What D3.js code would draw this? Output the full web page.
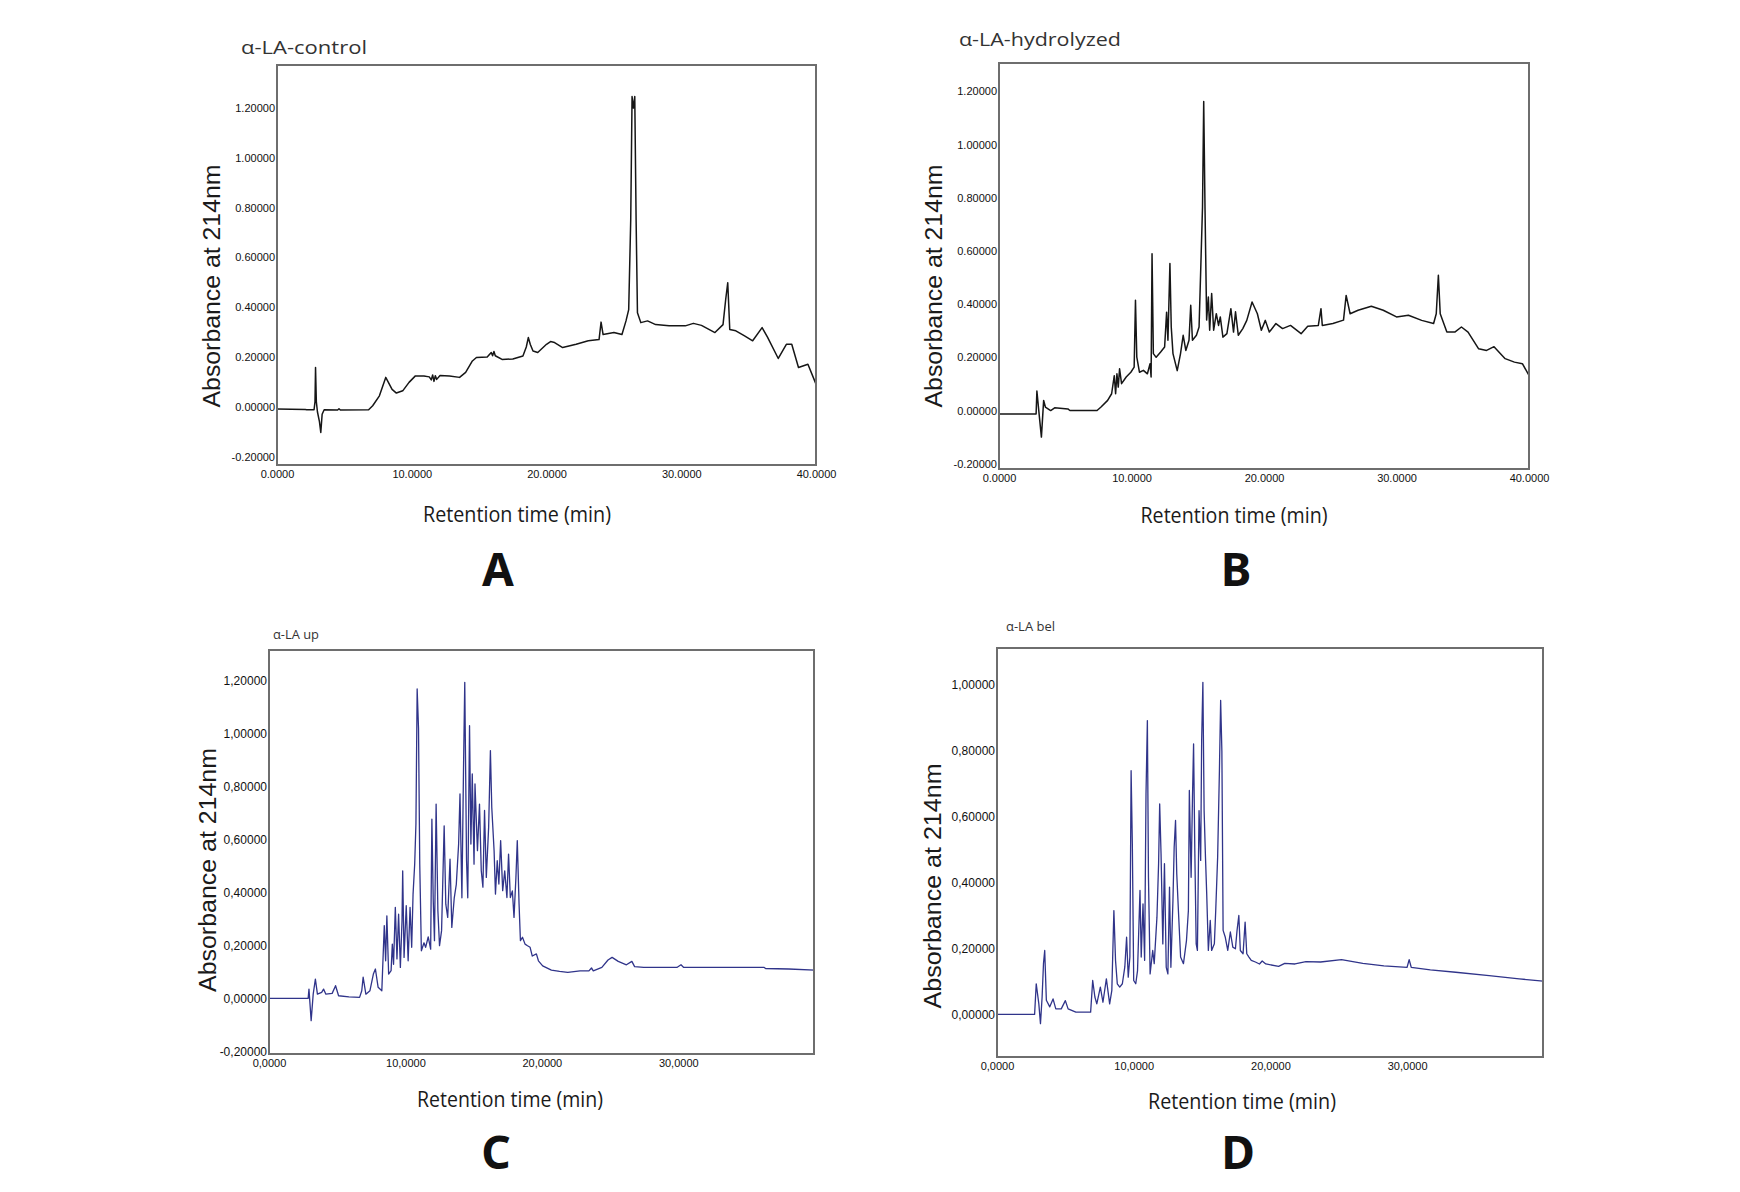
<!DOCTYPE html>
<html><head><meta charset="utf-8">
<script src="https://cdn.jsdelivr.net/npm/d3@7"></script>
<style>body{margin:0;background:#fff}</style>
</head><body><svg id="c" width="1740" height="1192"></svg>
<script>
// ---------- DATA ----------
const titles = ["α-LA-control", "α-LA-hydrolyzed", "α-LA up", "α-LA bel"];
const panelLetters = ["A", "B", "C", "D"];
const xTitle = "Retention time (min)";
const yTitle = "Absorbance at 214nm";

const yTicksFull = [-0.2, 0, 0.2, 0.4, 0.6, 0.8, 1.0, 1.2];
const yTicksD = [0, 0.2, 0.4, 0.6, 0.8, 1.0];
const xTicks40 = [0, 10, 20, 30, 40];
const xTicks30 = [0, 10, 20, 30];

// [retention time (min), absorbance]
const controlTrace = [[0,-0.009],[2.1,-0.011],[2.2,-0.012],[2.75,-0.012],[2.82,0.02],[2.86,0.158],[2.92,0.02],[3.0,-0.02],[3.15,-0.06],[3.25,-0.103],[3.35,-0.03],[3.5,-0.012],[4.5,-0.013],[4.6,-0.008],[4.7,-0.013],[6.8,-0.012],[7.1,0.004],[7.6,0.044],[8.07,0.118],[8.54,0.07],[8.86,0.055],[9.33,0.064],[9.8,0.098],[10.27,0.124],[10.9,0.124],[11.3,0.12],[11.45,0.108],[11.55,0.128],[11.65,0.102],[11.75,0.125],[11.85,0.11],[12.1,0.126],[12.8,0.124],[13.55,0.118],[14.0,0.138],[14.5,0.184],[14.8,0.198],[15.6,0.2],[15.9,0.218],[16.0,0.205],[16.1,0.222],[16.2,0.205],[16.7,0.19],[17.5,0.192],[18.25,0.204],[18.5,0.24],[18.65,0.278],[18.8,0.25],[19.0,0.224],[19.35,0.218],[20.0,0.251],[20.3,0.262],[20.6,0.258],[21.2,0.238],[22.2,0.251],[23.1,0.265],[23.9,0.27],[24.05,0.34],[24.2,0.29],[25.0,0.298],[25.6,0.29],[25.9,0.345],[26.1,0.39],[26.25,0.75],[26.35,1.246],[26.45,1.2],[26.55,1.246],[26.65,0.75],[26.75,0.378],[27.0,0.338],[27.5,0.345],[28.1,0.33],[29.1,0.325],[30.3,0.325],[30.9,0.335],[31.5,0.327],[32.5,0.298],[33.1,0.33],[33.3,0.432],[33.45,0.498],[33.6,0.31],[34.05,0.305],[34.7,0.285],[35.3,0.265],[36.0,0.318],[36.4,0.28],[37.2,0.194],[37.8,0.251],[38.2,0.251],[38.7,0.158],[39.4,0.171],[40.0,0.091]];

const hydrolyzedTrace = [[0,-0.013],[2.8,-0.013],[2.86,0.073],[3.05,-0.025],[3.2,-0.1],[3.37,0.038],[3.5,0.013],[3.9,0.0],[4.2,0.01],[5.2,0.006],[5.35,0.0],[7.4,0.0],[7.7,0.013],[8.2,0.038],[8.5,0.063],[8.7,0.131],[8.8,0.063],[8.9,0.138],[9.0,0.088],[9.1,0.157],[9.25,0.101],[9.6,0.126],[9.95,0.144],[10.2,0.163],[10.3,0.415],[10.4,0.201],[10.6,0.144],[10.9,0.151],[11.2,0.138],[11.4,0.176],[11.48,0.126],[11.55,0.59],[11.65,0.214],[11.86,0.2],[12.2,0.22],[12.5,0.239],[12.65,0.37],[12.75,0.264],[12.9,0.553],[13.0,0.314],[13.13,0.214],[13.45,0.15],[13.7,0.214],[13.9,0.283],[14.1,0.226],[14.34,0.264],[14.47,0.396],[14.6,0.264],[14.9,0.283],[15.1,0.314],[15.23,0.54],[15.36,0.766],[15.45,1.162],[15.55,0.754],[15.67,0.34],[15.8,0.427],[15.9,0.302],[16.05,0.44],[16.2,0.302],[16.4,0.364],[16.57,0.32],[16.7,0.352],[16.9,0.276],[17.2,0.289],[17.5,0.383],[17.7,0.295],[17.85,0.371],[18.06,0.283],[18.4,0.308],[18.7,0.339],[19.1,0.408],[19.5,0.364],[19.8,0.302],[20.1,0.339],[20.4,0.295],[20.9,0.327],[21.4,0.308],[22.0,0.32],[22.8,0.289],[23.3,0.317],[24.1,0.32],[24.3,0.383],[24.4,0.32],[25.2,0.327],[26.0,0.34],[26.2,0.433],[26.5,0.364],[27.1,0.377],[28.1,0.392],[29.0,0.377],[30.0,0.352],[30.9,0.358],[31.9,0.339],[32.8,0.327],[33.0,0.364],[33.16,0.509],[33.3,0.364],[33.8,0.295],[34.4,0.295],[34.9,0.314],[35.4,0.295],[36.2,0.232],[36.8,0.226],[37.36,0.24],[38.2,0.195],[38.9,0.182],[39.5,0.176],[40,0.132]];

const upTrace = [[0,0],[2.87,0],[2.93,0.035],[3.09,-0.084],[3.24,0.016],[3.4,0.073],[3.55,0.016],[3.86,0.023],[4.0,0.035],[4.17,0.016],[4.63,0.019],[4.88,0.048],[5.1,0.01],[5.86,0.006],[6.64,0.004],[6.8,0.029],[6.9,0.08],[7.1,0.016],[7.4,0.029],[7.65,0.092],[7.8,0.111],[8.0,0.042],[8.27,0.029],[8.45,0.275],[8.55,0.142],[8.64,0.312],[8.77,0.092],[8.95,0.105],[9.04,0.205],[9.13,0.129],[9.26,0.344],[9.38,0.149],[9.5,0.318],[9.63,0.117],[9.75,0.293],[9.8,0.482],[9.9,0.155],[10.06,0.35],[10.2,0.142],[10.34,0.344],[10.46,0.193],[10.56,0.394],[10.68,0.508],[10.77,0.659],[10.86,1.169],[10.96,1.02],[11.05,0.508],[11.17,0.18],[11.36,0.21],[11.48,0.193],[11.67,0.232],[11.85,0.186],[11.94,0.677],[12.04,0.369],[12.13,0.218],[12.25,0.734],[12.38,0.331],[12.5,0.199],[12.65,0.256],[12.84,0.652],[12.96,0.356],[13.1,0.306],[13.27,0.526],[13.4,0.268],[13.58,0.38],[13.73,0.431],[13.9,0.583],[14.0,0.772],[14.14,0.38],[14.26,0.873],[14.35,1.194],[14.48,0.521],[14.57,0.38],[14.7,1.03],[14.8,0.583],[14.9,0.848],[15.03,0.507],[15.1,0.81],[15.28,0.558],[15.43,0.734],[15.56,0.482],[15.68,0.42],[15.8,0.71],[15.93,0.457],[16.1,0.646],[16.23,0.936],[16.33,0.721],[16.5,0.558],[16.6,0.394],[16.73,0.52],[16.85,0.432],[16.98,0.596],[17.13,0.407],[17.28,0.482],[17.44,0.381],[17.56,0.545],[17.69,0.381],[17.84,0.406],[17.96,0.306],[18.1,0.457],[18.2,0.596],[18.33,0.357],[18.43,0.218],[18.58,0.231],[18.77,0.205],[18.95,0.199],[19.14,0.193],[19.3,0.16],[19.6,0.168],[19.75,0.142],[20.06,0.123],[20.7,0.107],[21.3,0.102],[21.9,0.098],[22.8,0.104],[23.45,0.104],[23.64,0.115],[23.77,0.104],[24.4,0.117],[24.85,0.145],[25.15,0.155],[25.6,0.14],[26.2,0.127],[26.6,0.14],[26.8,0.12],[27.47,0.117],[29.9,0.117],[30.2,0.127],[30.4,0.117],[33.6,0.117],[36.3,0.117],[36.4,0.113],[38.1,0.111],[40,0.107]];

const belTrace = [[0,0],[2.75,0],[2.87,0.093],[3.06,0.032],[3.18,-0.028],[3.3,0.053],[3.4,0.154],[3.49,0.194],[3.61,0.043],[3.86,0.023],[4.1,0.047],[4.3,0.017],[4.7,0.017],[5.0,0.042],[5.2,0.017],[5.77,0.007],[6.85,0.007],[7.0,0.103],[7.16,0.053],[7.3,0.032],[7.56,0.083],[7.75,0.037],[8.0,0.108],[8.24,0.032],[8.4,0.073],[8.55,0.315],[8.67,0.164],[8.8,0.093],[8.98,0.083],[9.17,0.093],[9.35,0.144],[9.48,0.234],[9.6,0.113],[9.72,0.174],[9.81,0.739],[9.9,0.517],[10.0,0.103],[10.15,0.093],[10.28,0.133],[10.46,0.376],[10.55,0.174],[10.68,0.335],[10.8,0.164],[10.9,0.669],[11.0,0.891],[11.08,0.416],[11.2,0.123],[11.39,0.194],[11.5,0.154],[11.7,0.295],[11.82,0.457],[11.9,0.638],[12.0,0.487],[12.13,0.214],[12.25,0.457],[12.38,0.143],[12.5,0.123],[12.62,0.386],[12.72,0.143],[12.87,0.345],[12.96,0.507],[13.06,0.588],[13.15,0.426],[13.27,0.315],[13.43,0.174],[13.64,0.154],[13.86,0.224],[14.0,0.315],[14.07,0.679],[14.2,0.416],[14.3,0.659],[14.38,0.82],[14.47,0.497],[14.57,0.214],[14.66,0.194],[14.78,0.618],[14.9,0.467],[14.97,0.83],[15.06,1.007],[15.15,0.618],[15.25,0.477],[15.34,0.366],[15.46,0.194],[15.6,0.285],[15.7,0.194],[15.9,0.214],[16.0,0.315],[16.14,0.477],[16.27,0.739],[16.36,0.952],[16.45,0.799],[16.54,0.255],[16.7,0.234],[16.88,0.194],[17.07,0.25],[17.25,0.204],[17.44,0.199],[17.56,0.255],[17.69,0.3],[17.8,0.194],[18.0,0.184],[18.15,0.28],[18.27,0.184],[18.43,0.174],[18.6,0.164],[18.9,0.159],[19.2,0.153],[19.4,0.162],[19.66,0.153],[20.6,0.146],[21.05,0.155],[21.8,0.153],[22.6,0.16],[23.67,0.159],[25.2,0.166],[26.76,0.155],[28.3,0.147],[30.0,0.143],[30.15,0.166],[30.3,0.143],[31.7,0.135],[33.55,0.128],[36.0,0.118],[38.2,0.108],[39.94,0.101]];

// ---------- LAYOUT ----------
const panels = [
  {trace: controlTrace, left: 277, right: 816, top: 65, bottom: 465, yDom: [-0.234, 1.373], xDom: [0, 40],
   yTicks: yTicksFull, xTicks: xTicks40, sep: ".", color: "#161616", width: 1.5,
   title: {x: 241, y: 54, size: 19, len: 126}, xt: {x: 517, y: 522, len: 188}, yt: {x: 220, y: 286, len: 243},
   letter: {x: 498, y: 586}, yFont: 11, xFont: 11},
  {trace: hydrolyzedTrace, left: 999, right: 1529, top: 63, bottom: 469, yDom: [-0.22, 1.307], xDom: [0, 40],
   yTicks: yTicksFull, xTicks: xTicks40, sep: ".", color: "#161616", width: 1.5,
   title: {x: 959, y: 46, size: 19, len: 162}, xt: {x: 1234, y: 523, len: 187}, yt: {x: 942, y: 286, len: 243},
   letter: {x: 1236, y: 586}, yFont: 11, xFont: 11},
  {trace: upTrace, left: 269, right: 814, top: 650, bottom: 1054, yDom: [-0.21, 1.316], xDom: [0, 39.95],
   yTicks: yTicksFull, xTicks: xTicks30, sep: ",", color: "#30348a", width: 1.3,
   title: {x: 273, y: 639, size: 12, len: 46}, xt: {x: 510, y: 1107, len: 186}, yt: {x: 216, y: 870, len: 244},
   letter: {x: 496, y: 1169}, yFont: 12, xFont: 11},
  {trace: belTrace, left: 997, right: 1543, top: 648, bottom: 1057, yDom: [-0.129, 1.111], xDom: [0, 39.94],
   yTicks: yTicksD, xTicks: xTicks30, sep: ",", color: "#30348a", width: 1.3,
   title: {x: 1006, y: 631, size: 12, len: 49}, xt: {x: 1242, y: 1109, len: 188}, yt: {x: 941, y: 886, len: 245},
   letter: {x: 1238, y: 1169}, yFont: 12, xFont: 11}
];

const svg = d3.select("#c");
svg.append("rect").attr("width", 1740).attr("height", 1192).attr("fill", "#fff");

panels.forEach((p, i) => {
  const x = d3.scaleLinear().domain(p.xDom).range([p.left, p.right]);
  const y = d3.scaleLinear().domain(p.yDom).range([p.bottom, p.top]);
  const g = svg.append("g");

  const line = d3.line().x(d => x(d[0])).y(d => y(d[1]));
  g.append("path").datum(p.trace).attr("d", line)
    .attr("fill", "none").attr("stroke", p.color).attr("stroke-width", p.width)
    .attr("stroke-linejoin", "round");

  g.append("rect").attr("x", p.left).attr("y", p.top)
    .attr("width", p.right - p.left).attr("height", p.bottom - p.top)
    .attr("fill", "none").attr("stroke", "#6e6e6e").attr("stroke-width", 2);

  const ya = g.append("g").attr("transform", `translate(${p.left},0)`)
    .call(d3.axisLeft(y).tickValues(p.yTicks).tickSize(0).tickPadding(2)
      .tickFormat(d => d.toFixed(5).replace(".", p.sep)));
  ya.select(".domain").remove();
  ya.selectAll("text").attr("font-family", "Liberation Sans, Arial, sans-serif")
    .attr("font-size", p.yFont).attr("fill", "#111");

  const xa = g.append("g").attr("transform", `translate(0,${p.bottom})`)
    .call(d3.axisBottom(x).tickValues(p.xTicks).tickSize(0).tickPadding(5)
      .tickFormat(d => d.toFixed(4).replace(".", p.sep)));
  xa.select(".domain").remove();
  xa.selectAll("text").attr("font-family", "Liberation Sans, Arial, sans-serif")
    .attr("font-size", p.xFont).attr("fill", "#111");

  g.append("text").attr("x", p.title.x).attr("y", p.title.y).text(titles[i])
    .attr("font-family", "Open Sans, Noto Sans, sans-serif").attr("font-size", p.title.size)
    .attr("fill", "#333").attr("textLength", p.title.len).attr("lengthAdjust", "spacingAndGlyphs");

  g.append("text").attr("x", p.xt.x).attr("y", p.xt.y).attr("text-anchor", "middle").text(xTitle)
    .attr("font-family", "Open Sans, Noto Sans, sans-serif").attr("font-size", 22)
    .attr("fill", "#1a1a1a").attr("textLength", p.xt.len).attr("lengthAdjust", "spacingAndGlyphs");

  g.append("text").attr("transform", `translate(${p.yt.x},${p.yt.y}) rotate(-90)`)
    .attr("text-anchor", "middle").text(yTitle)
    .attr("font-family", "Liberation Sans, Arial, sans-serif").attr("font-size", 23)
    .attr("fill", "#1a1a1a").attr("textLength", p.yt.len).attr("lengthAdjust", "spacingAndGlyphs");

  g.append("text").attr("x", p.letter.x).attr("y", p.letter.y).attr("text-anchor", "middle")
    .text(panelLetters[i]).attr("font-family", "Noto Sans, Open Sans, sans-serif")
    .attr("font-weight", "bold").attr("font-size", 46).attr("fill", "#111");
});
</script></body></html>
